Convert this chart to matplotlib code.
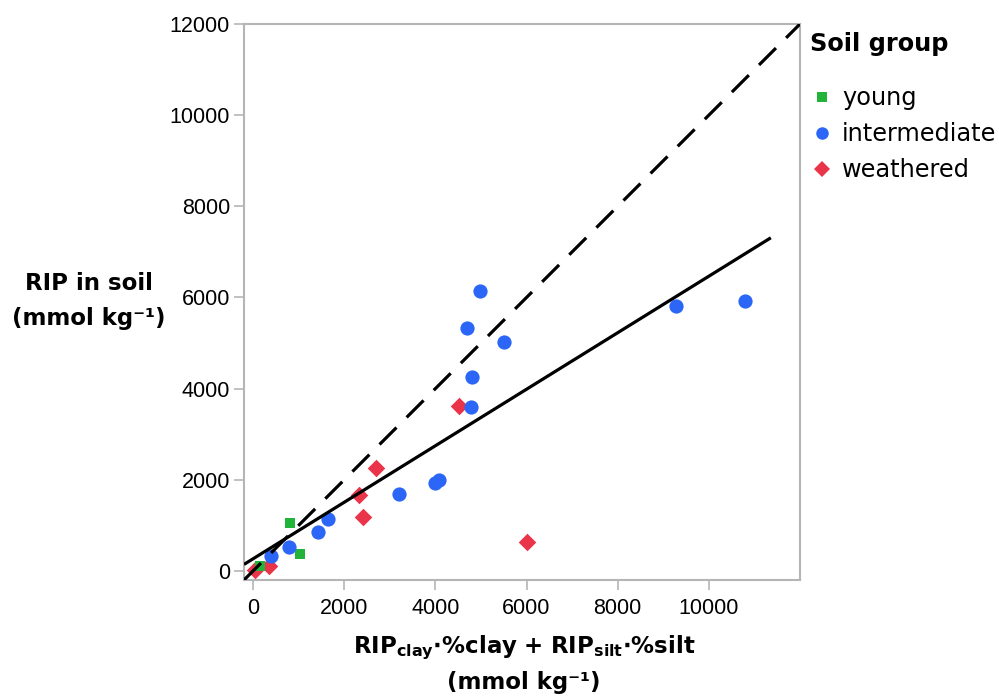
import matplotlib
matplotlib.use('Agg')
import matplotlib.pyplot as plt
from matplotlib.lines import Line2D

# RIP estimated from clay/silt fractions vs. RIP measured in soil (mmol/kg)
young_x = [810, 1030, 150]
young_y = [1050, 370, 110]

inter_x = [390, 790, 1420, 1640, 3210, 4000, 4080, 4980, 4690, 5510, 4800, 4780, 9280, 10790]
inter_y = [330, 520, 850, 1140, 1690, 1930, 1990, 6140, 5330, 5020, 4260, 3600, 5810, 5920]

weath_x = [4520, 2700, 2320, 2410, 350, 40, 6010]
weath_y = [3620, 2260, 1670, 1180, 100, 15, 640]

# fitted regression line and 1:1 reference
fit_slope = 0.62
fit_intercept = 266
fit_xrange = [-200, 11360]
one_to_one = [-200, 12000]

colors = {
    'young': '#22b33a',
    'intermediate': '#2b66f7',
    'weathered': '#ea3449',
    'spine': '#b5b5b5',
}

fig = plt.figure(figsize=(9.99, 6.98), dpi=100)
ax = fig.add_axes([244 / 999, 1 - 580 / 698, 556 / 999, 556 / 698])

ax.scatter(weath_x, weath_y, marker='D', s=80, color=colors['weathered'],
           linewidths=0, zorder=2)
ax.scatter(young_x, young_y, marker='s', s=55, color=colors['young'],
           linewidths=0, zorder=3)
ax.scatter(inter_x, inter_y, marker='o', s=105, color=colors['intermediate'],
           linewidths=0, zorder=4)

fx = fit_xrange
ax.plot(fx, [fit_intercept + fit_slope * v for v in fx], color='black',
        linewidth=2.3, zorder=5, solid_capstyle='butt')
ax.plot(one_to_one, one_to_one, color='black', linewidth=2.3,
        dashes=(7.5, 4.5), zorder=5)

ax.set_xlim(-200, 12000)
ax.set_ylim(-200, 12000)
ax.set_xticks([0, 2000, 4000, 6000, 8000, 10000])
ax.set_yticks([0, 2000, 4000, 6000, 8000, 10000, 12000])

for sp in ax.spines.values():
    sp.set_color(colors['spine'])
    sp.set_linewidth(1.5)
ax.tick_params(axis='both', direction='out', length=7, width=1.2,
               color=colors['spine'], labelcolor='black')
ax.tick_params(axis='x', pad=6)
ax.tick_params(axis='y', pad=3)
for lbl in ax.get_xticklabels() + ax.get_yticklabels():
    lbl.set_fontfamily('Liberation Sans')
    lbl.set_fontsize(15.5)

# axis titles
fig.text(89 / 999, 1 - 283 / 698, 'RIP in soil', ha='center', va='center',
         fontsize=16.5, fontweight='bold')
fig.text(89 / 999, 1 - 318 / 698, '(mmol kg\u207b\u00b9)', ha='center',
         va='center', fontsize=16.5, fontweight='bold')
fig.text(524 / 999, 1 - 648 / 698,
         r'$\mathbf{RIP_{clay}{\cdot}\%clay\ {+}\ RIP_{silt}{\cdot}\%silt}$',
         ha='center', va='center', fontsize=16.5)
fig.text(524 / 999, 1 - 683 / 698, '(mmol kg\u207b\u00b9)', ha='center',
         va='center', fontsize=16.5, fontweight='bold')

# legend
fig.text(810 / 999, 1 - 44 / 698, 'Soil group', ha='left', va='center',
         fontsize=17.3, fontweight='bold')
handles = [
    Line2D([], [], marker='s', linestyle='none', markersize=7,
           color=colors['young'], markeredgewidth=0),
    Line2D([], [], marker='o', linestyle='none', markersize=9,
           color=colors['intermediate'], markeredgewidth=0),
    Line2D([], [], marker='D', linestyle='none', markersize=8.5,
           color=colors['weathered'], markeredgewidth=0),
]
fig.legend(handles, ['young', 'intermediate', 'weathered'],
           loc='upper left', bbox_to_anchor=(812 / 999, 1 - 86 / 698),
           frameon=False, fontsize=17.3, handlelength=0.8,
           handletextpad=0.45, labelspacing=0.5, borderpad=0,
           borderaxespad=0)

fig.savefig('out.png', dpi=100, facecolor='white')
